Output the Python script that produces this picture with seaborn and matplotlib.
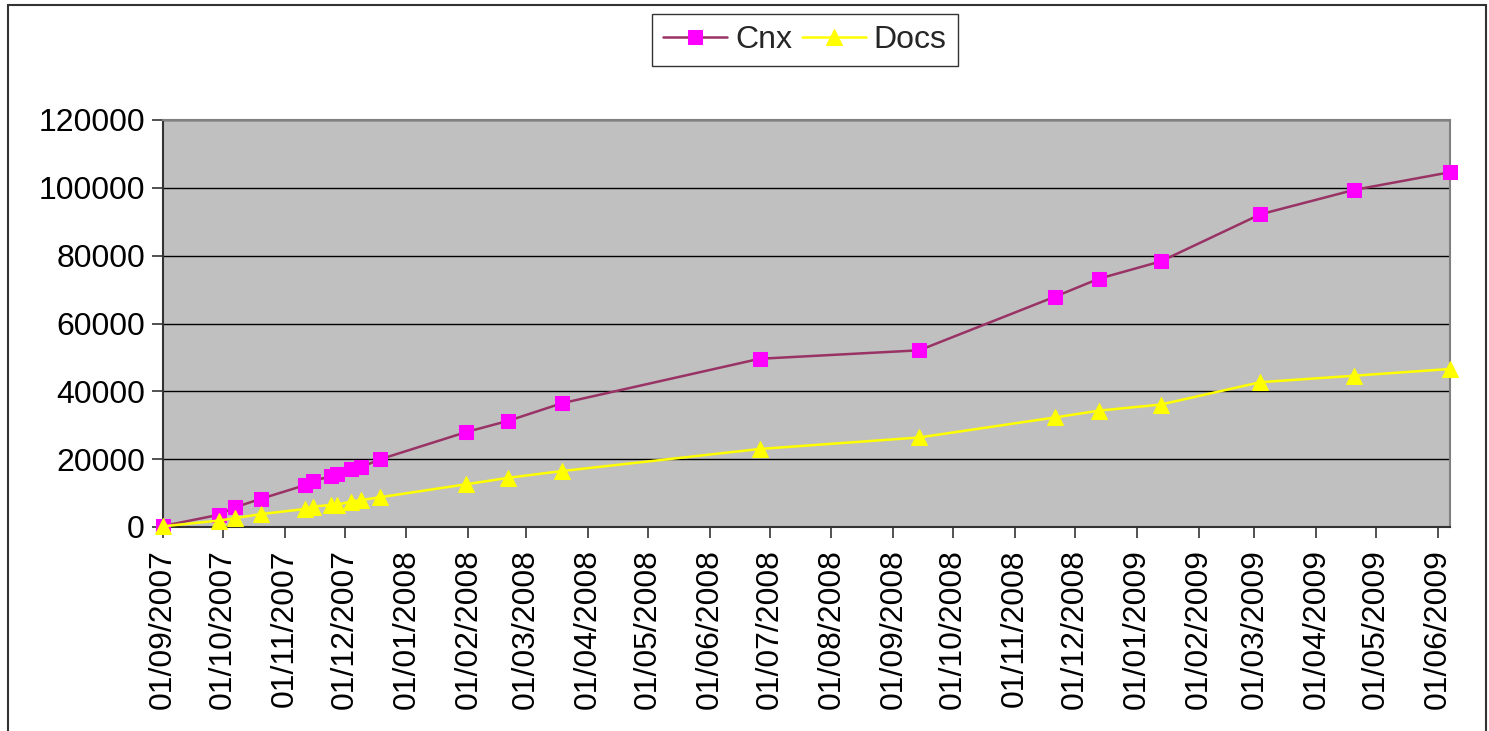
import matplotlib
matplotlib.use("Agg")
import matplotlib.pyplot as plt
import matplotlib.dates as mdates
from matplotlib.patches import Rectangle
import seaborn as sns
import pandas as pd

dates = ["2007-09-01", "2007-09-29", "2007-10-07", "2007-10-20", "2007-11-11",
         "2007-11-15", "2007-11-24", "2007-11-27", "2007-12-04", "2007-12-09",
         "2007-12-19", "2008-01-31", "2008-02-21", "2008-03-19", "2008-06-26",
         "2008-09-14", "2008-11-21", "2008-12-13", "2009-01-13", "2009-03-04",
         "2009-04-20", "2009-06-07"]
cnx = [300, 3600, 5800, 8300, 12300, 13600, 14900, 15600, 17000, 17600,
       20000, 28000, 31300, 36500, 49600, 52100, 67900, 73200, 78300, 92200,
       99400, 104600]
docs = [200, 1900, 2600, 3800, 5300, 6000, 6500, 6500, 7500, 7900,
        8800, 12600, 14500, 16500, 23000, 26400, 32300, 34300, 36100, 42700,
        44600, 46600]
series_names = ["Cnx", "Docs"]
y_ticks = [0, 20000, 40000, 60000, 80000, 100000, 120000]

df = pd.DataFrame({"date": pd.to_datetime(dates), "Cnx": cnx, "Docs": docs})

sns.set_theme(style="white")
plt.rcParams["font.family"] = ["Liberation Sans", "DejaVu Sans"]

W, H = 1489, 731
fig = plt.figure(figsize=(W / 100, H / 100), dpi=100)
ax = fig.add_axes([163 / W, 1 - 527 / H, (1450 - 163) / W, (527 - 120) / H])
ax.set_facecolor("#C0C0C0")

sns.lineplot(data=df, x="date", y="Cnx", ax=ax, color="#993366", lw=1.8,
             marker="s", markersize=10, markerfacecolor="#FF00FF",
             markeredgecolor="#FF00FF", label=series_names[0], legend=False,
             zorder=3, clip_on=False)
sns.lineplot(data=df, x="date", y="Docs", ax=ax, color="#FFFF00", lw=1.8,
             marker="^", markersize=11, markerfacecolor="#FFFF00",
             markeredgecolor="#FFFF00", label=series_names[1], legend=False,
             zorder=4, clip_on=False)

ax.set_xlim(pd.Timestamp("2007-09-01"), pd.Timestamp("2009-06-07"))
ax.set_ylim(0, 120000)
ax.set_yticks(y_ticks)
ax.set_yticklabels([str(v) for v in y_ticks])
ax.xaxis.set_major_locator(mdates.MonthLocator(bymonthday=1))
ax.xaxis.set_major_formatter(mdates.DateFormatter("%d/%m/%Y"))
ax.set_xlabel("")
ax.set_ylabel("")

ax.grid(axis="y", color="black", lw=1.0)
ax.grid(axis="x", visible=False)
ax.set_axisbelow(True)
ax.tick_params(axis="both", which="major", direction="out", length=8,
               width=1.2, color="#333333", labelcolor="black",
               left=True, bottom=True)
ax.tick_params(axis="y", pad=5, labelsize=23)
ax.tick_params(axis="x", pad=8, labelsize=23)
plt.setp(ax.get_xticklabels(), rotation=90)
for s in ["left", "bottom"]:
    ax.spines[s].set_color("#333333")
    ax.spines[s].set_linewidth(1.5)
for s in ["top", "right"]:
    ax.spines[s].set_color("#808080")
    ax.spines[s].set_linewidth(1.5)

leg = fig.legend(loc="center", bbox_to_anchor=(805 / W, 1 - 40 / H),
                 ncol=2, fontsize=23, frameon=True, fancybox=False,
                 handlelength=2.0, handletextpad=0.25, columnspacing=0.3,
                 borderpad=0.35, borderaxespad=0)
leg.get_frame().set_edgecolor("black")
leg.get_frame().set_linewidth(1.0)

fig.patches.append(Rectangle((8 / W, -0.1), (1486 - 8) / W, 1.1 - 5 / H,
                             transform=fig.transFigure, fill=False,
                             edgecolor="#333333", lw=1.5))

fig.savefig("out.png", dpi=100)
